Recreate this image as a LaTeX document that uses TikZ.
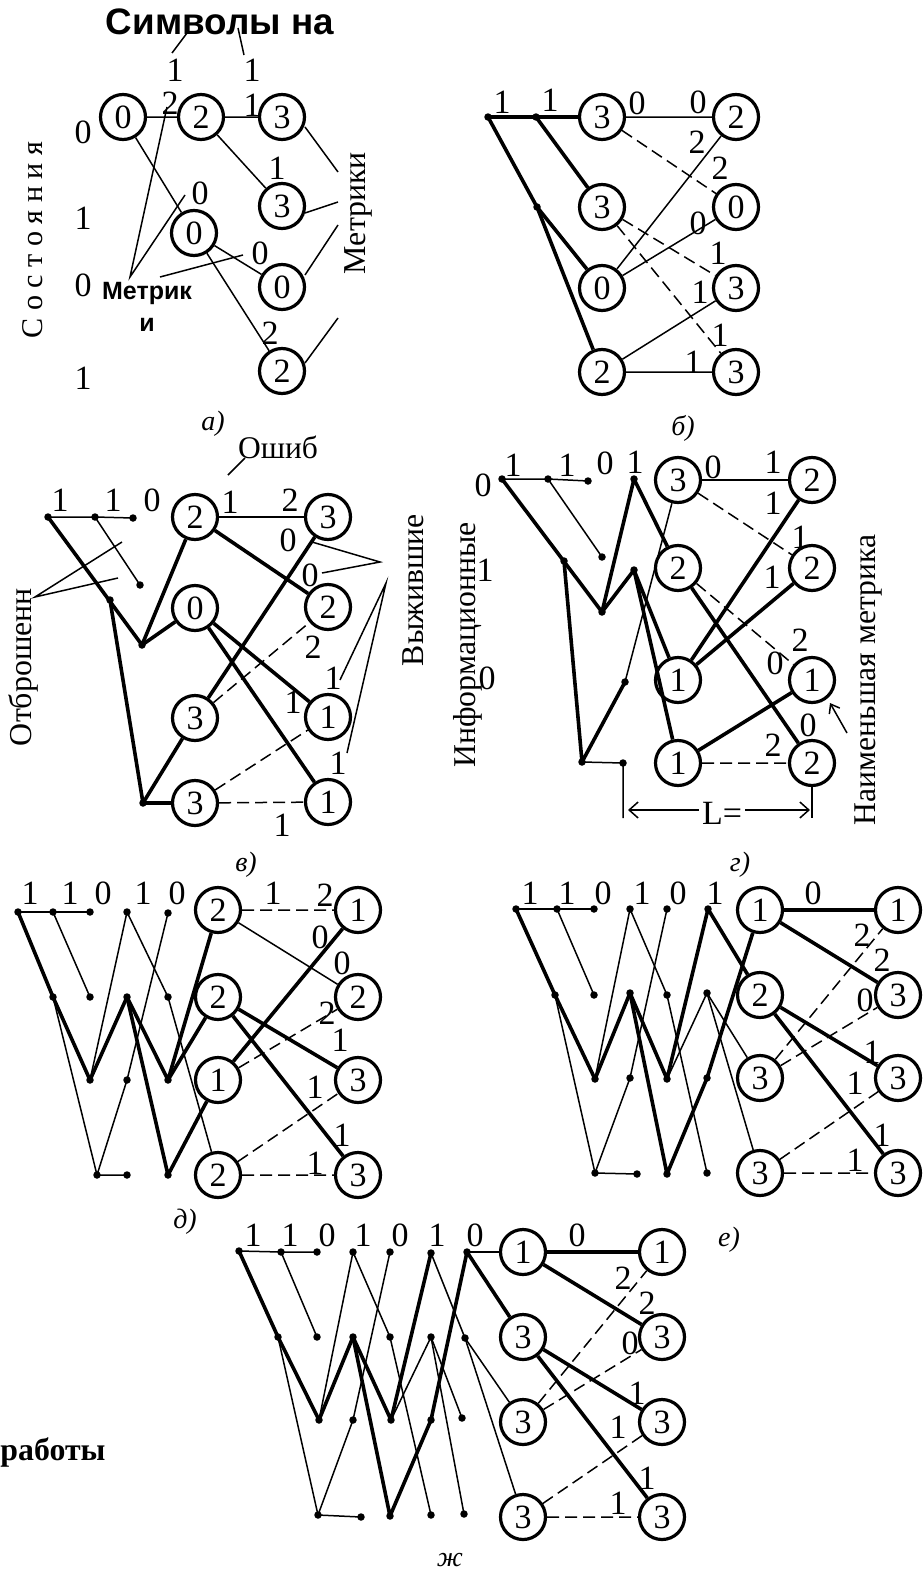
\documentclass[tikz,border=0pt]{standalone}
\usepackage{fontspec}
\setmainfont{Liberation Serif}
\setsansfont{Liberation Sans}
\newfontfamily\dgf{Liberation Serif}
\usetikzlibrary{arrows.meta}
\newcommand{\fitw}[2]{\resizebox{#1}{!}{#2}}
\newcommand{\dgfont}{\dgf\fontsize{34pt}{34pt}\selectfont}
\newcommand{\capfont}{\itshape\fontsize{28pt}{28pt}\selectfont}
\begin{document}
\begin{tikzpicture}[x=1pt,y=-1pt,
  st/.style={circle,draw,line width=3.2pt,minimum size=45pt,inner sep=0pt,font=\dgfont},
  dt/.style={circle,fill,inner sep=0pt,minimum size=7.5pt},
  ln/.style={line width=1.5pt},
  tk/.style={line width=3.6pt,line join=round},
  ds/.style={line width=1.5pt,dash pattern=on 12pt off 6pt},
  lb/.style={font=\dgfont,inner sep=0pt},
  captxt/.style={font=\capfont,inner sep=0pt},
  tx/.style={inner sep=0pt}]
\useasboundingbox (0,0) rectangle (923,1571);

%%%%%%%%%%%%%%%% panel a
\node[st] (a1) at (123,117) {0};
\node[st] (a2) at (201,117) {2};
\node[st] (a3) at (282,117) {3};
\node[st] (a4) at (282,206) {3};
\node[st] (a5) at (194,233) {0};
\node[st] (a6) at (282,287) {0};
\node[st] (a7) at (282,371) {2};
\draw[ln] (a1)--(a2) (a2)--(a3) (a1)--(a5) (a2)--(a4) (a5)--(a6) (a5)--(a7);
\foreach \x/\y/\t [count=\i] in {175/70/1,252/70/1,170/103/2,252/105/1,277/168/1,200/193/0,260/253/0,270/333/2}
  \node[lb] (al\i) at (\x,\y) {\t};
\foreach \y/\t [count=\i] in {132/0,218/1,285/0,378/1}
  \node[lb] (as\i) at (83,\y) {\t};
\node[tx] (sym) at (220,22) {\fitw{228pt}{\sffamily\bfseries Символы на}};
\draw[ln] (187,33) -- (172,53);
\draw[ln] (238,28) -- (244,55);
\node[tx,font=\sffamily\bfseries\fontsize{25pt}{25pt}\selectfont] (met1) at (147,293) {Метрик};
\node[tx,font=\sffamily\bfseries\fontsize{25pt}{25pt}\selectfont] (met2) at (147,325) {и};
\draw[ln] (167,107) -- (130,277) -- (185,195);
\draw[ln] (160,277) -- (243,255);
\node[tx,rotate=90] (sost) at (33,240) {\fitw{197pt}{С о с т о я н и я}};
\node[tx,rotate=90] (metr) at (358,213) {\fitw{122pt}{Метрики}};
\draw[ln] (305,127)--(338,172) (305,213)--(338,202) (305,275)--(338,225) (305,363)--(338,318);
\node[captxt] (capa) at (213,424) {а)};

%%%%%%%%%%%%%%%% panel b
\node[st] (b1) at (602,117) {3};
\node[st] (b2) at (602,207) {3};
\node[st] (b3) at (602,288) {0};
\node[st] (b4) at (602,372) {2};
\node[st] (b5) at (736,117) {2};
\node[st] (b6) at (736,207) {0};
\node[st] (b7) at (736,288) {3};
\node[st] (b8) at (736,372) {3};
\node[dt] (bd1) at (488,117) {};
\node[dt] (bd2) at (536,117) {};
\node[dt] (bd3) at (537,207) {};
\draw[tk] (bd1.center)--(bd2.center)--(b1);
\draw[tk] (bd1.center)--(bd3.center)--(b4);
\draw[tk] (bd3.center)--(b3);
\draw[tk] (bd2.center)--(b2);
\draw[ln] (b1)--(b5) (b3)--(b5) (b3)--(b6) (b4)--(b7) (b4)--(b8);
\draw[ds] (b1)--(b6) (b2)--(b7) (b2)--(b8);
\foreach \x/\y/\t [count=\i] in {502/102/1,550/100/1,637/103/0,698/102/0,697/142/2,720/168/2,698/223/0,718/253/1,700/292/1,720/335/1,693/362/1}
  \node[lb] (bl\i) at (\x,\y) {\t};
\node[captxt] (capb) at (683,428) {б)};

%%%%%%%%%%%%%%%% panel v
\node[st] (c1) at (195,517) {2};
\node[st] (c2) at (195,608) {0};
\node[st] (c3) at (195,718) {3};
\node[st] (c4) at (195,803) {3};
\node[st] (c5) at (328,517) {3};
\node[st] (c6) at (328,607) {2};
\node[st] (c7) at (328,717) {1};
\node[st] (c8) at (328,802) {1};
\node[dt] (cd1) at (48,517) {};
\node[dt] (cd2) at (95,517) {};
\node[dt] (cd3) at (133,518) {};
\node[dt] (cd4) at (140,585) {};
\node[dt] (cd5) at (110,600) {};
\node[dt] (cd6) at (142,645) {};
\node[dt] (cd7) at (143,803) {};
\draw[ln] (cd1.center)--(cd2.center)--(cd3.center);
\draw[ln] (cd2.center)--(cd4.center);
\draw[tk] (cd1.center)--(cd6.center)--(c1);
\draw[tk] (cd6.center)--(c2);
\draw[tk] (cd5.center)--(cd7.center)--(c3);
\draw[tk] (cd7.center)--(c4);
\draw[ln] (c1)--(c5);
\draw[tk] (c1)--(c6) (c3)--(c5) (c2)--(c7) (c2)--(c8);
\draw[ds] (c3)--(c6) (c4)--(c7) (c4)--(c8);
\foreach \x/\y/\t [count=\i] in {60/500/1,113/500/1,152/500/0,230/502/1,290/500/2,288/540/0,310/575/0,313/647/2,333/678/1,293/702/1,338/763/1,282/825/1}
  \node[lb] (cl\i) at (\x,\y) {\t};
\node[tx] (osh) at (278,447) {\fitw{80pt}{Ошиб}};
\draw[ln] (228,475) -- (245,458);
\node[tx,rotate=90] (vyzh) at (413,590) {\fitw{152pt}{Выжившие}};
\draw[ln] (312,542)--(380,562)--(322,573);
\draw[ln] (340,680)--(386,583)--(347,753);
\node[tx,rotate=90] (otbr) at (23,667) {\fitw{158pt}{Отброшенн}};
\draw[ln] (122,542)--(35,597)--(118,578);
\node[captxt] (capv) at (246,865) {в)};

%%%%%%%%%%%%%%%% panel g
\node[st] (g1) at (678,480) {3};
\node[st] (g2) at (678,568) {2};
\node[st] (g3) at (678,680) {1};
\node[st] (g4) at (678,763) {1};
\node[st] (g5) at (812,480) {2};
\node[st] (g6) at (812,568) {2};
\node[st] (g7) at (812,680) {1};
\node[st] (g8) at (812,763) {2};
\node[dt] (gd1) at (502,479) {};
\node[dt] (gd2) at (548,479) {};
\node[dt] (gd3) at (588,481) {};
\node[dt] (gd4) at (602,557) {};
\node[dt] (gd5) at (564,561) {};
\node[dt] (gd6) at (602,612) {};
\node[dt] (gd7) at (634,479) {};
\node[dt] (gd8) at (634,570) {};
\node[dt] (gd9) at (625,682) {};
\node[dt] (gd10) at (582,762) {};
\node[dt] (gd11) at (623,763) {};
\coordinate (gb1) at (623,818);
\coordinate (gb2) at (812,818);
\draw[ln] (gd1.center)--(gd2.center)--(gd3.center);
\draw[ln] (gd2.center)--(gd4.center);
\draw[ln] (gd9.center)--(g1);
\draw[ln] (gd10.center)--(gd11.center)--(gb1);
\draw[tk] (gd1.center)--(gd6.center)--(gd7.center)--(g2);
\draw[tk] (gd6.center)--(gd8.center)--(g3);
\draw[tk] (gd8.center)--(g4);
\draw[tk] (gd5.center)--(gd10.center)--(gd9.center);
\draw[ln] (g1)--(g5);
\draw[ds] (g1)--(g6) (g2)--(g7) (g4)--(g8);
\draw[tk] (g2)--(g8) (g3)--(g5) (g3)--(g6) (g4)--(g7);
\draw[ln] (g8.south)--(gb2);
\coordinate (gL) at (628,810);
\coordinate (gR) at (810,810);
\draw[ln,{Straight Barb[length=9pt,width=16pt]}-{Straight Barb[length=9pt,width=16pt]}] (gL)--(gR);
\node[lb,fill=white,inner xsep=3pt] (Llab) at (722,813) {L=};
\coordinate (ga1) at (847,733);
\coordinate (ga2) at (830,703);
\draw[ln,-{Straight Barb[length=8pt,width=12pt]}] (ga1)--(ga2);
\foreach \x/\y/\t [count=\i] in {483/485/0,485/570/1,487/678/0,513/465/1,567/465/1,605/463/0,635/462/1,713/467/0,773/462/1,773/503/1,800/537/1,772/577/1,800/640/2,775/663/0,808/725/0,773/745/2}
  \node[lb] (gl\i) at (\x,\y) {\t};
\node[tx,rotate=90] (inf) at (468,645) {\fitw{245pt}{Информационные}};
\node[tx,rotate=90] (naim) at (868,680) {\fitw{290pt}{Наименьшая метрика}};
\node[captxt] (capg) at (740,865) {г)};

%%%%%%%%%%%%%%%% panel d
\node[dt] (dd11) at (18,912) {};
\node[dt] (dd12) at (53,912) {};
\node[dt] (dd13) at (90,912) {};
\node[dt] (dd14) at (127,912) {};
\node[dt] (dd15) at (168,913) {};
\node[dt] (dd22) at (53,997) {};
\node[dt] (dd23) at (90,997) {};
\node[dt] (dd24) at (127,997) {};
\node[dt] (dd25) at (168,997) {};
\node[dt] (dd33) at (90,1080) {};
\node[dt] (dd34) at (127,1080) {};
\node[dt] (dd35) at (168,1080) {};
\node[dt] (dd43) at (97,1175) {};
\node[dt] (dd44) at (127,1175) {};
\node[dt] (dd45) at (168,1175) {};
\node[st] (D1) at (218,910) {2};
\node[st] (D2) at (218,997) {2};
\node[st] (D3) at (218,1080) {1};
\node[st] (D4) at (218,1175) {2};
\node[st] (D5) at (358,910) {1};
\node[st] (D6) at (358,997) {2};
\node[st] (D7) at (358,1080) {3};
\node[st] (D8) at (358,1175) {3};
\draw[ln] (dd11.center)--(dd12.center)--(dd13.center);
\draw[ln] (dd12.center)--(dd23.center);
\draw[ln] (dd22.center)--(dd43.center)--(dd44.center);
\draw[ln] (dd33.center)--(dd14.center)--(dd25.center)--(D4);
\draw[ln] (dd15.center)--(dd34.center)--(dd43.center);
\draw[tk] (dd11.center)--(dd22.center)--(dd33.center)--(dd24.center)--(dd35.center)--(D1);
\draw[tk] (dd35.center)--(D2);
\draw[tk] (dd24.center)--(dd45.center)--(D3);
\draw[ln] (D1)--(D6);
\draw[ds] (D1)--(D5) (D3)--(D6) (D4)--(D7) (D4)--(D8);
\draw[tk] (D2)--(D7) (D2)--(D8) (D3)--(D5);
\foreach \x/\y/\t [count=\i] in {30/893/1,70/893/1,103/893/0,143/893/1,177/893/0,273/893/1,325/895/2,320/937/0,342/963/0,327/1013/2,340/1040/1,315/1087/1,342/1135/1,315/1163/1}
  \node[lb] (dl\i) at (\x,\y) {\t};
\node[captxt] (capd) at (185,1222) {д)};

%%%%%%%%%%%%%%%% panel e
\node[dt] (e11) at (516,909) {};
\node[dt] (e12) at (557,909) {};
\node[dt] (e13) at (594,909) {};
\node[dt] (e14) at (630,909) {};
\node[dt] (e15) at (667,909) {};
\node[dt] (e16) at (708,909) {};
\node[dt] (e22) at (555,995) {};
\node[dt] (e23) at (594,995) {};
\node[dt] (e24) at (630,993) {};
\node[dt] (e25) at (667,995) {};
\node[dt] (e26) at (707,993) {};
\node[dt] (e33) at (595,1079) {};
\node[dt] (e34) at (630,1078) {};
\node[dt] (e35) at (667,1079) {};
\node[dt] (e36) at (707,1078) {};
\node[dt] (e43) at (595,1173) {};
\node[dt] (e44) at (637,1174) {};
\node[dt] (e45) at (667,1174) {};
\node[dt] (e46) at (707,1173) {};
\node[st] (E1) at (760,910) {1};
\node[st] (E2) at (760,995) {2};
\node[st] (E3) at (760,1078) {3};
\node[st] (E4) at (760,1173) {3};
\node[st] (E5) at (898,910) {1};
\node[st] (E6) at (898,995) {3};
\node[st] (E7) at (898,1078) {3};
\node[st] (E8) at (898,1173) {3};
\draw[ln] (e11.center)--(e12.center)--(e13.center);
\draw[ln] (e12.center)--(e23.center);
\draw[ln] (e22.center)--(e43.center)--(e44.center);
\draw[ln] (e33.center)--(e14.center)--(e25.center)--(e46.center);
\draw[ln] (e15.center)--(e34.center)--(e43.center);
\draw[ln] (e35.center)--(e26.center)--(E3);
\draw[ln] (e26.center)--(E4);
\draw[tk] (e11.center)--(e22.center)--(e33.center)--(e24.center)--(e35.center)--(e16.center)--(E2);
\draw[tk] (e24.center)--(e45.center)--(e36.center)--(E1);
\draw[tk] (E1)--(E5) (E1)--(E6) (E2)--(E7) (E2)--(E8);
\draw[ds] (E3)--(E5) (E3)--(E6) (E4)--(E7) (E4)--(E8);
\foreach \x/\y/\t [count=\i] in {530/893/1,567/893/1,603/893/0,642/893/1,678/893/0,715/893/1,813/893/0,862/935/2,882/960/2,865/1000/0,872/1052/1,855/1083/1,882/1135/1,855/1160/1}
  \node[lb] (el\i) at (\x,\y) {\t};
\node[captxt] (cape) at (729,1240) {е)};

%%%%%%%%%%%%%%%% panel zh
\node[dt] (f11) at (239,1251) {};
\node[dt] (f12) at (281,1252) {};
\node[dt] (f13) at (317,1252) {};
\node[dt] (f14) at (353,1252) {};
\node[dt] (f15) at (390,1252) {};
\node[dt] (f16) at (431,1253) {};
\node[dt] (f17) at (467,1252) {};
\node[dt] (f22) at (278,1337) {};
\node[dt] (f23) at (317,1337) {};
\node[dt] (f24) at (353,1337) {};
\node[dt] (f25) at (390,1337) {};
\node[dt] (f26) at (431,1337) {};
\node[dt] (f27) at (465,1338) {};
\node[dt] (f33) at (319,1420) {};
\node[dt] (f34) at (353,1420) {};
\node[dt] (f35) at (391,1420) {};
\node[dt] (f36) at (431,1420) {};
\node[dt] (f37) at (462,1418) {};
\node[dt] (f43) at (318,1515) {};
\node[dt] (f44) at (361,1517) {};
\node[dt] (f45) at (390,1516) {};
\node[dt] (f46) at (431,1515) {};
\node[dt] (f47) at (464,1514) {};
\node[st] (F1) at (523,1252) {1};
\node[st] (F2) at (523,1337) {3};
\node[st] (F3) at (523,1422) {3};
\node[st] (F4) at (523,1517) {3};
\node[st] (F5) at (662,1252) {1};
\node[st] (F6) at (662,1337) {3};
\node[st] (F7) at (662,1422) {3};
\node[st] (F8) at (662,1517) {3};
\draw[ln] (f11.center)--(f12.center)--(f13.center);
\draw[ln] (f12.center)--(f23.center);
\draw[ln] (f22.center)--(f43.center)--(f44.center);
\draw[ln] (f33.center)--(f14.center)--(f25.center)--(f46.center);
\draw[ln] (f15.center)--(f34.center)--(f43.center);
\draw[ln] (f35.center)--(f26.center)--(f37.center);
\draw[ln] (f26.center)--(f47.center);
\draw[ln] (f16.center)--(f27.center)--(F3);
\draw[ln] (f27.center)--(F4);
\draw[ln] (f17.center)--(F1);
\draw[tk] (f11.center)--(f22.center)--(f33.center)--(f24.center)--(f35.center)--(f16.center);
\draw[tk] (f24.center)--(f45.center)--(f36.center)--(f17.center)--(F2);
\draw[tk] (F1)--(F5) (F1)--(F6) (F2)--(F7) (F2)--(F8);
\draw[ds] (F3)--(F5) (F3)--(F6) (F4)--(F7) (F4)--(F8);
\foreach \x/\y/\t [count=\i] in {253/1235/1,290/1235/1,327/1235/0,363/1235/1,400/1235/0,437/1235/1,475/1235/0,577/1235/0,623/1278/2,647/1303/2,630/1343/0,637/1393/1,618/1427/1,647/1478/1,618/1503/1}
  \node[lb] (fl\i) at (\x,\y) {\t};
\node[captxt] (capzh) at (450,1560) {ж};
\node[tx] (rab) at (53,1452) {\fitw{105pt}{\bfseries работы}};
\end{tikzpicture}
\end{document}
